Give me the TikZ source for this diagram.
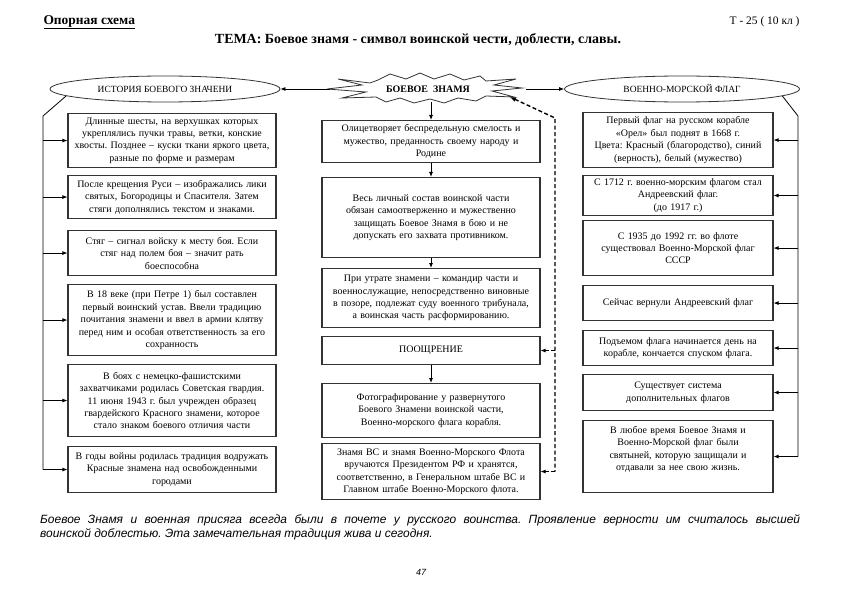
\documentclass[tikz,border=0pt]{standalone}
\usepackage{fontspec}
\setmainfont{Liberation Serif}
\newfontfamily\notefont{Liberation Sans}
\usetikzlibrary{shapes.geometric,arrows.meta}

\begin{document}
\begin{tikzpicture}[x=1bp, y=-1bp,
  box/.style={draw=black!80, line width=1.1bp, align=center, inner sep=3bp,
    font=\fontsize{10}{12.5}\selectfont\frenchspacing, anchor=north},
  lbox/.style={box, text width=202bp},
  cbox/.style={box, text width=212bp},
  rbox/.style={box, text width=184bp},
  oval/.style={draw=black!80, line width=0.8bp, ellipse, minimum height=26bp,
    font=\fontsize{9.5}{11}\selectfont},
  arr/.style={-{Latex[length=5bp,width=4bp]}, line width=0.8bp},
  darr/.style={line width=1.4bp, dash pattern=on 4bp off 2.5bp}]

  \useasboundingbox (0,0) rectangle (841,595);

  % заголовок
  \node[anchor=west, font=\bfseries\fontsize{13.5}{15}\selectfont] (kind) at (40,22) {\underline{Опорная схема}};
  \node[anchor=east, font=\fontsize{11.5}{14}\selectfont] (code) at (803,22) {Т - 25 ( 10 кл )};
  \node[font=\bfseries\fontsize{14}{16}\selectfont] (topic) at (418,40) {ТЕМА: Боевое знамя - символ воинской чести, доблести, славы.};

  % верхний ряд
  \node[oval, minimum width=230bp] (hist) at (165,89) {ИСТОРИЯ БОЕВОГО ЗНАЧЕНИ};
  \node[oval, minimum width=235bp] (flag) at (682,89) {ВОЕННО-МОРСКОЙ ФЛАГ};
  \node[minimum width=195bp, minimum height=26bp, inner sep=0pt,
    font=\bfseries\fontsize{10}{12}\selectfont] (star) at (428,89) {БОЕВОЕ\ \ ЗНАМЯ};
  % контур "взрыва"
  \draw[line width=0.8bp, draw=black!80, shift={(star.center)}]
    (-50,-9) -- (-38,-15) -- (-22,-10) -- (-8,-16) -- (6,-10) -- (22,-15) -- (36,-9) -- (52,-13)
    -- (58,-8) -- (88,-10) -- (66,-4) -- (94,-1) -- (64,2) -- (86,8) -- (58,7)
    -- (48,12) -- (30,9) -- (16,14) -- (2,10) -- (-14,14) -- (-28,9) -- (-42,13) -- (-52,8)
    -- (-86,9) -- (-62,3) -- (-101,0) -- (-66,-4) -- (-90,-10) -- (-58,-6) -- cycle;
  \draw[arr] (star) -- (hist);
  \draw[arr] (star) -- (flag);

  % левая колонка
  \node[lbox, minimum height=54bp] (l1) at (172,113) {Длинные шесты, на верхушках которых\\ укреплялись пучки травы, ветки, конские\\ хвосты. Позднее – куски ткани яркого цвета,\\ разные по форме и размерам};
  \node[lbox, minimum height=43bp] (l2) at (172,175) {После крещения Руси – изображались лики\\ святых, Богородицы и Спасителя. Затем\\ стяги дополнялись текстом и знаками.};
  \node[lbox, minimum height=45bp] (l3) at (172,230) {Стяг – сигнал войску к месту боя. Если\\ стяг над полем боя – значит рать\\ боеспособна};
  \node[lbox, minimum height=71bp] (l4) at (172,284) {В 18 веке (при Петре 1) был составлен\\ первый воинский устав. Ввели традицию\\ почитания знамени и ввел в армии клятву\\ перед ним и особая ответственность за его\\ сохранность};
  \node[lbox, minimum height=72bp] (l5) at (172,364) {В боях с немецко-фашистскими\\ захватчиками родилась Советская гвардия.\\ 11 июня 1943 г. был учрежден образец\\ гвардейского Красного знамени, которое\\ стало знаком боевого отличия части};
  \node[lbox, minimum height=46bp] (l6) at (172,446) {В годы войны родилась традиция водружать\\ Красные знамена над освобожденными\\ городами};

  \coordinate (lk) at (43,116);
  \draw[line width=0.8bp] (hist.184) -- (lk) -- (lk |- l6.west);
  \foreach \b in {l1,l2,l3,l4,l5,l6}
    \draw[arr] (lk |- \b.west) -- (\b.west);

  % средняя колонка
  \node[cbox, minimum height=42bp] (c1) at (431,120) {Олицетворяет беспредельную смелость и\\ мужество, преданность своему народу и\\ Родине};
  \node[cbox, minimum height=80bp] (c2) at (431,177) {Весь личный состав воинской части\\ обязан самоотверженно и мужественно\\ защищать Боевое Знамя в бою и не\\ допускать его захвата противником.};
  \node[cbox, minimum height=59bp] (c3) at (431,268) {При утрате знамени – командир части и\\ военнослужащие, непосредственно виновные\\ в позоре, подлежат суду военного трибунала,\\ а воинская часть расформированию.};
  \node[cbox, minimum height=28bp] (c4) at (431,336) {ПООЩРЕНИЕ};
  \node[cbox, minimum height=54bp] (c5) at (431,383) {Фотографирование у развернутого\\ Боевого Знамени воинской части,\\ Военно-морского флага корабля.};
  \node[cbox, minimum height=56bp] (c6) at (431,443) {Знамя ВС и знамя Военно-Морского Флота\\ вручаются Президентом РФ и хранятся,\\ соответственно, в Генеральном штабе ВС и\\ Главном штабе Военно-Морского флота.};

  \draw[arr] (star.south -| c1.north) -- (c1.north);
  \draw[arr] (c1) -- (c2);
  \draw[arr] (c2) -- (c3);
  \draw[arr] (c4) -- (c5);

  \coordinate (bk) at ([shift={(82,8)}]star.center);
  \coordinate (dk) at (555,118);
  \draw[darr, {Latex[length=6bp,width=5bp]}-] (bk) -- (dk) -- (dk |- c6.east);
  \draw[darr, arr, dash pattern=on 4bp off 2.5bp] (dk |- c4.east) -- (c4.east);
  \draw[darr, arr, dash pattern=on 4bp off 2.5bp] (dk |- c6.east) -- (c6.east);

  % правая колонка
  \node[rbox, minimum height=55bp] (r1) at (678,112) {Первый флаг на русском корабле\\ «Орел» был поднят в 1668 г.\\ Цвета: Красный (благородство), синий\\ (верность), белый (мужество)};
  \node[rbox, minimum height=35bp] (r2) at (678,175) {С 1712 г. военно-морским флагом стал\\ Андреевский флаг.\\ (до 1917 г.)};
  \node[rbox, minimum height=55bp] (r3) at (678,220) {С 1935 до 1992 гг. во флоте\\ существовал Военно-Морской флаг\\ СССР};
  \node[rbox, minimum height=35bp] (r4) at (678,285) {Сейчас вернули Андреевский флаг};
  \node[rbox, minimum height=35bp] (r5) at (678,330) {Подъемом флага начинается день на\\ корабле, кончается спуском флага.};
  \node[rbox, minimum height=36bp] (r6) at (678,374) {Существует система\\ дополнительных флагов};
  \node[rbox, minimum height=72bp] (r7) at (678,420) {В любое время Боевое Знамя и\\ Военно-Морской флаг были\\ святыней, которую защищали и\\ отдавали за нее свою жизнь.\\[3.5bp]\mbox{}};

  \coordinate (rk) at (798,116);
  \draw[line width=0.8bp] (flag.356) -- (rk) -- (rk |- r7.east);
  \foreach \b in {r1,r2,r3,r4,r5,r6,r7}
    \draw[arr] (rk |- \b.east) -- (\b.east);

  % подпись
  \node[anchor=north west, text width=760bp, align=justify, inner sep=0pt,
    font=\notefont\itshape\fontsize{12}{15}\selectfont\frenchspacing] (note) at (40,514)
    {Боевое Знамя и военная присяга всегда были в почете у русского воинства. Проявление верности им считалось высшей\linebreak воинской доблестью. Эта замечательная традиция жива и сегодня.};
  \node[font=\notefont\itshape\fontsize{9}{10}\selectfont] (pg) at (421,572) {47};
\end{tikzpicture}
\end{document}
